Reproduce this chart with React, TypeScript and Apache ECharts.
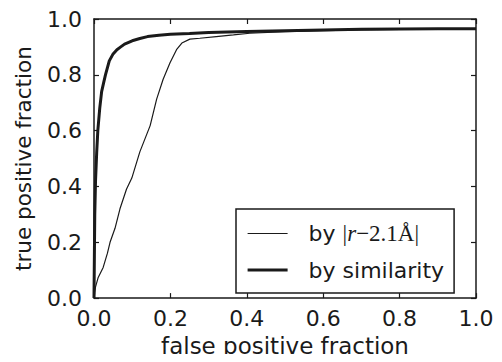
import React, { useEffect, useRef } from "react";
import * as echarts from "echarts";

const distName = "by |r−2.1Å|";
const simName = "by similarity";

const distX = [0, 0.004, 0.011, 0.024, 0.035, 0.042, 0.055, 0.068, 0.085, 0.099, 0.12, 0.147, 0.164, 0.181, 0.199, 0.216, 0.23, 0.251, 0.277, 0.32, 0.365, 0.408, 0.5, 0.6, 0.7, 0.8, 0.9, 1.0];
const distY = [0, 0.04, 0.074, 0.11, 0.16, 0.2, 0.25, 0.32, 0.39, 0.43, 0.524, 0.618, 0.713, 0.784, 0.843, 0.89, 0.914, 0.928, 0.931, 0.937, 0.943, 0.949, 0.955, 0.958, 0.961, 0.963, 0.964, 0.965];

const simX = [0, 0.001, 0.002, 0.004, 0.007, 0.01, 0.015, 0.02, 0.025, 0.03, 0.04, 0.05, 0.06, 0.07, 0.08, 0.1, 0.12, 0.14, 0.17, 0.2, 0.25, 0.3, 0.4, 0.5, 0.6, 0.7, 0.8, 0.9, 1.0];
const simY = [0, 0.15, 0.3, 0.42, 0.52, 0.6, 0.68, 0.74, 0.77, 0.8, 0.85, 0.875, 0.89, 0.9, 0.91, 0.922, 0.93, 0.937, 0.942, 0.945, 0.948, 0.952, 0.955, 0.958, 0.961, 0.963, 0.964, 0.965, 0.965];

const zip = (xs: number[], ys: number[]) => xs.map((x, i) => [x, ys[i]]);

const FONT = "DejaVu Sans";
const INK = "#1a1a1a";

export default function App() {
  const ref = useRef<HTMLDivElement>(null);
  useEffect(() => {
    if (!ref.current) return;
    const chart = echarts.init(ref.current, undefined, { renderer: "svg" });
    const axisCommon = {
      type: "value" as const,
      min: 0,
      max: 1,
      interval: 0.2,
      splitLine: { show: false },
      axisLine: { show: true, onZero: false, lineStyle: { color: INK, width: 1.5 } },
      axisTick: { show: true, inside: true, length: 5, lineStyle: { color: INK, width: 1.2 } },
    };
    chart.setOption({
      animation: false,
      backgroundColor: "#ffffff",
      grid: { left: 94, right: 26, top: 19, bottom: 61 },
      xAxis: [
        {
          ...axisCommon,
          position: "bottom",
          name: "false positive fraction",
          nameLocation: "middle",
          nameGap: 31,
          nameTextStyle: { fontFamily: FONT, fontSize: 23, color: INK },
          axisLabel: {
            fontFamily: FONT,
            fontSize: 22,
            color: INK,
            margin: 9,
            formatter: (v: number) => v.toFixed(1),
          },
        },
        {
          ...axisCommon,
          position: "top",
          axisLabel: { show: false },
        },
      ],
      yAxis: [
        {
          ...axisCommon,
          position: "left",
          name: "true positive fraction",
          nameLocation: "middle",
          nameGap: 60,
          nameTextStyle: { fontFamily: FONT, fontSize: 21.5, color: INK },
          axisLabel: {
            fontFamily: FONT,
            fontSize: 22,
            color: INK,
            margin: 12,
            formatter: (v: number) => v.toFixed(1),
          },
        },
        {
          ...axisCommon,
          position: "right",
          axisLabel: { show: false },
        },
      ],
      legend: {
        show: true,
        orient: "vertical",
        left: 236,
        top: 209,
        itemWidth: 40,
        itemHeight: 20,
        itemGap: 14,
        padding: [13, 10, 12, 10],
        borderColor: INK,
        borderWidth: 1.5,
        borderRadius: 0,
        backgroundColor: "#ffffff",
        itemStyle: { color: "transparent", borderColor: "transparent", borderWidth: 0, opacity: 0 },
        data: [
          { name: distName, lineStyle: { width: 1.2, color: INK } },
          { name: simName, lineStyle: { width: 3.2, color: INK } },
        ],
        formatter: (name: string) =>
          name === distName
            ? "{t|by }{m||}{i|r}{m|−2.1Å|}"
            : "{t|by similarity}",
        textStyle: {
          fontFamily: FONT,
          fontSize: 22,
          color: INK,
          rich: {
            t: { fontFamily: FONT, fontSize: 22, color: INK, padding: [0, 0, 0, 16] },
            m: { fontFamily: "Liberation Serif", fontSize: 23, color: INK },
            i: { fontFamily: "Liberation Serif", fontStyle: "italic", fontSize: 23, color: INK },
          },
        },
      },
      series: [
        {
          name: distName,
          type: "line",
          data: zip(distX, distY),
          showSymbol: false,
          symbol: "none",
          lineStyle: { color: INK, width: 1.2 },
          itemStyle: { color: INK },
          z: 3,
        },
        {
          name: simName,
          type: "line",
          data: zip(simX, simY),
          showSymbol: false,
          symbol: "none",
          lineStyle: { color: INK, width: 3 },
          itemStyle: { color: INK },
          z: 4,
        },
      ],
    });
    return () => chart.dispose();
  }, []);
  return <div ref={ref} style={{ width: 502, height: 362, margin: -8 }} />;
}
